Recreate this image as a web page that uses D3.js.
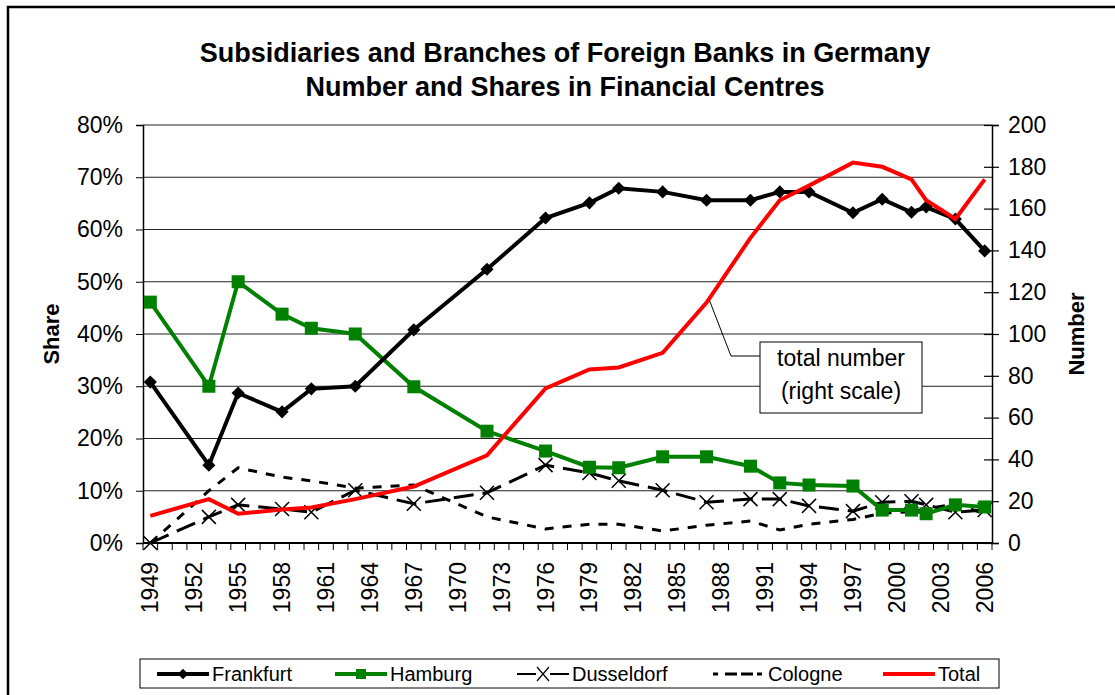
<!DOCTYPE html>
<html>
<head>
<meta charset="utf-8">
<script src="https://cdn.jsdelivr.net/npm/d3@7"></script>
<style>
  body { margin: 0; background: #fff; }
  text { font-family: "Liberation Sans", Arial, sans-serif; }
</style>
</head>
<body>
<div id="chart"></div>
<script>
// data
const allYears = d3.range(1949, 2007)
const years = [1949, 1953, 1955, 1958, 1960, 1963, 1967, 1972, 1976, 1979, 1981, 1984, 1987, 1990, 1992, 1994, 1997, 1999, 2001, 2002, 2004, 2006]
const frankfurt = [30.8, 14.9, 28.7, 25.1, 29.5, 30.0, 40.8, 52.4, 62.2, 65.1, 67.9, 67.2, 65.6, 65.6, 67.2, 67.2, 63.2, 65.8, 63.3, 64.3, 62.0, 55.9]
const hamburg = [46.1, 30.0, 50.0, 43.8, 41.1, 40.0, 29.9, 21.4, 17.6, 14.5, 14.4, 16.5, 16.5, 14.7, 11.5, 11.1, 10.9, 6.3, 6.3, 5.6, 7.3, 6.9]
const dusseldorf = [0, 5.0, 7.3, 6.5, 5.9, 10.1, 7.5, 9.6, 14.9, 13.4, 11.9, 10.1, 7.8, 8.4, 8.4, 7.1, 6.1, 7.8, 8.0, 7.3, 5.9, 6.3]
const cologne = [0, 10.0, 14.4, 12.6, 11.9, 10.5, 11.1, 5.0, 2.7, 3.6, 3.6, 2.3, 3.4, 4.2, 2.5, 3.6, 4.5, 5.7, 6.0, 6.5, 7.5, 5.6]
const total = [13, 21, 14, 16, 17, 21, 27, 42, 74, 83, 84, 91, 115, 146, 164, 171, 182, 180, 174, 164, 155, 174]
const shareTicks = [0, 10, 20, 30, 40, 50, 60, 70, 80]
const numberTicks = [0, 20, 40, 60, 80, 100, 120, 140, 160, 180, 200]

const width = 1115, height = 695
const margin = { top: 125, right: 123, bottom: 152, left: 143 }
const tickFont = 23

const svg = d3.select("#chart").append("svg")
    .attr("width", width)
    .attr("height", height)

// outer frame (runs off the right and bottom edge)
svg.append("rect")
    .attr("x", 8).attr("y", 7)
    .attr("width", 1130).attr("height", 720)
    .attr("fill", "none")
    .attr("stroke", "black")
    .attr("stroke-width", 2.5)

const xScale = d3.scaleBand()
    .domain(allYears)
    .range([margin.left, width - margin.right])

const yScale = d3.scaleLinear()
    .domain([0, 80])
    .range([height - margin.bottom, margin.top])

const y2Scale = d3.scaleLinear()
    .domain([0, 200])
    .range([height - margin.bottom, margin.top])

const cx = yr => xScale(yr) + xScale.bandwidth() / 2

// title
svg.append("text")
    .attr("x", 565).attr("y", 62)
    .attr("text-anchor", "middle")
    .attr("font-size", 27).attr("font-weight", "bold")
    .text("Subsidiaries and Branches of Foreign Banks in Germany")
svg.append("text")
    .attr("x", 565).attr("y", 96)
    .attr("text-anchor", "middle")
    .attr("font-size", 27).attr("font-weight", "bold")
    .text("Number and Shares in Financial Centres")

// gridlines
svg.append("g")
    .selectAll("line")
    .data(shareTicks.slice(1))
    .join("line")
    .attr("x1", margin.left).attr("x2", width - margin.right)
    .attr("y1", d => yScale(d)).attr("y2", d => yScale(d))
    .attr("stroke", "#222")
    .attr("stroke-width", 1.2)

// left axis
const yAxis = d3.axisLeft(yScale)
    .tickValues(shareTicks)
    .tickFormat(d => d + "%")
    .tickSize(7)
    .tickPadding(13)
svg.append("g")
    .attr("transform", `translate(${margin.left},0)`)
    .call(yAxis)
    .call(g => g.select(".domain").attr("stroke-width", 1.5))
    .call(g => g.selectAll("text").attr("font-size", tickFont).attr("font-family", "Liberation Sans, Arial, sans-serif"))

// right axis, ticks cross the line
const y2Axis = d3.axisRight(y2Scale)
    .tickValues(numberTicks)
    .tickSize(7)
    .tickPadding(9)
svg.append("g")
    .attr("transform", `translate(${width - margin.right},0)`)
    .call(y2Axis)
    .call(g => g.select(".domain").attr("stroke-width", 1.5))
    .call(g => g.selectAll(".tick line").attr("x1", -8).attr("stroke-width", 1.2))
    .call(g => g.selectAll("text").attr("font-size", tickFont).attr("font-family", "Liberation Sans, Arial, sans-serif"))

// bottom axis: ticks between the years, labels every third year
const xAxisG = svg.append("g")
xAxisG.append("line")
    .attr("x1", margin.left).attr("x2", width - margin.right)
    .attr("y1", yScale(0)).attr("y2", yScale(0))
    .attr("stroke", "black").attr("stroke-width", 2)
xAxisG.selectAll(".xtick")
    .data(allYears.concat([2007]))
    .join("line")
    .attr("class", "xtick")
    .attr("x1", d => d === 2007 ? width - margin.right : xScale(d))
    .attr("x2", d => d === 2007 ? width - margin.right : xScale(d))
    .attr("y1", yScale(0)).attr("y2", yScale(0) + 7)
    .attr("stroke", "black").attr("stroke-width", 1)
xAxisG.selectAll(".xlabel")
    .data(allYears.filter(d => (d - 1949) % 3 === 0))
    .join("text")
    .attr("class", "xlabel")
    .attr("transform", d => `translate(${cx(d) + 8},${yScale(0) + 19}) rotate(-90)`)
    .attr("text-anchor", "end")
    .attr("font-size", tickFont)
    .text(d => d)

// axis titles
svg.append("text")
    .attr("transform", `translate(59,${(margin.top + height - margin.bottom) / 2}) rotate(-90)`)
    .attr("text-anchor", "middle")
    .attr("font-size", 22).attr("font-weight", "bold")
    .text("Share")
svg.append("text")
    .attr("transform", `translate(1084,${(margin.top + height - margin.bottom) / 2}) rotate(-90)`)
    .attr("text-anchor", "middle")
    .attr("font-size", 22).attr("font-weight", "bold")
    .text("Number")

const shareLine = d3.line()
    .x(d => cx(d[0]))
    .y(d => yScale(d[1]))
const totalLine = d3.line()
    .x(d => cx(d[0]))
    .y(d => y2Scale(d[1]))

const zipped = vals => years.map((yr, i) => [yr, vals[i]])

// Cologne
svg.append("path")
    .datum(zipped(cologne))
    .attr("d", shareLine)
    .attr("fill", "none")
    .attr("stroke", "black")
    .attr("stroke-width", 3)
    .attr("stroke-dasharray", "9,9")

// Dusseldorf
svg.append("path")
    .datum(zipped(dusseldorf))
    .attr("d", shareLine)
    .attr("fill", "none")
    .attr("stroke", "black")
    .attr("stroke-width", 3)
    .attr("stroke-dasharray", "20,9")
svg.append("g")
    .selectAll("path")
    .data(zipped(dusseldorf))
    .join("path")
    .attr("d", d => {
        const x = cx(d[0]), y = yScale(d[1]), s = 7
        return `M${x - s},${y - s}L${x + s},${y + s}M${x - s},${y + s}L${x + s},${y - s}`
    })
    .attr("stroke", "black")
    .attr("stroke-width", 1.5)

// Hamburg
svg.append("path")
    .datum(zipped(hamburg))
    .attr("d", shareLine)
    .attr("fill", "none")
    .attr("stroke", "#008000")
    .attr("stroke-width", 4)
svg.append("g")
    .selectAll("rect")
    .data(zipped(hamburg))
    .join("rect")
    .attr("x", d => cx(d[0]) - 6.5)
    .attr("y", d => yScale(d[1]) - 6.5)
    .attr("width", 13).attr("height", 13)
    .attr("fill", "#008000")

// Frankfurt
svg.append("path")
    .datum(zipped(frankfurt))
    .attr("d", shareLine)
    .attr("fill", "none")
    .attr("stroke", "black")
    .attr("stroke-width", 4)
svg.append("g")
    .selectAll("path")
    .data(zipped(frankfurt))
    .join("path")
    .attr("d", d3.symbol(d3.symbolDiamond2, 110))
    .attr("transform", d => `translate(${cx(d[0])},${yScale(d[1])})`)
    .attr("fill", "black")

// Total (right scale)
svg.append("path")
    .datum(zipped(total))
    .attr("d", totalLine)
    .attr("fill", "none")
    .attr("stroke", "#ff0000")
    .attr("stroke-width", 4)

// callout for the total line
const anchorX = cx(1987) + 3, anchorY = y2Scale(total[12]) - 2
svg.append("path")
    .attr("d", `M${anchorX},${anchorY}L731,356L760,356`)
    .attr("fill", "none")
    .attr("stroke", "black")
    .attr("stroke-width", 1)
svg.append("rect")
    .attr("x", 760).attr("y", 342)
    .attr("width", 162).attr("height", 71)
    .attr("fill", "white")
    .attr("stroke", "black")
    .attr("stroke-width", 1)
svg.append("text")
    .attr("x", 841).attr("y", 366)
    .attr("text-anchor", "middle")
    .attr("font-size", 23)
    .text("total number")
svg.append("text")
    .attr("x", 841).attr("y", 399)
    .attr("text-anchor", "middle")
    .attr("font-size", 23)
    .text("(right scale)")

// legend
const legend = svg.append("g")
legend.append("rect")
    .attr("x", 140).attr("y", 659)
    .attr("width", 859).attr("height", 29)
    .attr("fill", "white")
    .attr("stroke", "black")
    .attr("stroke-width", 1)

const legendItems = [
    { name: "Frankfurt", x: 157, color: "black", width: 4, dash: null, marker: "diamond" },
    { name: "Hamburg", x: 335, color: "#008000", width: 4, dash: null, marker: "square" },
    { name: "Dusseldorf", x: 517, color: "black", width: 2, dash: null, marker: "x" },
    { name: "Cologne", x: 713, color: "black", width: 3, dash: "5,7,12,4,12,4", marker: null },
    { name: "Total", x: 883, color: "#ff0000", width: 4, dash: null, marker: null }
]
const ly = 674
legendItems.forEach(item => {
    const g = legend.append("g")
    g.append("line")
        .attr("x1", item.x).attr("x2", item.x + 52)
        .attr("y1", ly).attr("y2", ly)
        .attr("stroke", item.color)
        .attr("stroke-width", item.width)
        .attr("stroke-dasharray", item.dash)
    const mx = item.x + 26
    if (item.marker === "diamond") {
        g.append("path")
            .attr("d", d3.symbol(d3.symbolDiamond2, 70))
            .attr("transform", `translate(${mx},${ly})`)
            .attr("fill", "black")
    } else if (item.marker === "square") {
        g.append("rect")
            .attr("x", mx - 5).attr("y", ly - 5)
            .attr("width", 10).attr("height", 10)
            .attr("fill", "#008000")
    } else if (item.marker === "x") {
        g.append("rect")
            .attr("x", mx - 7).attr("y", ly - 8)
            .attr("width", 14).attr("height", 16)
            .attr("fill", "white")
        g.append("path")
            .attr("d", `M${mx - 6},${ly - 7}L${mx + 6},${ly + 7}M${mx - 6},${ly + 7}L${mx + 6},${ly - 7}`)
            .attr("stroke", "black")
            .attr("stroke-width", 1.2)
    }
    g.append("text")
        .attr("x", item.x + 55)
        .attr("y", ly + 7)
        .attr("font-size", 20)
        .text(item.name)
})
</script>
</body>
</html>
